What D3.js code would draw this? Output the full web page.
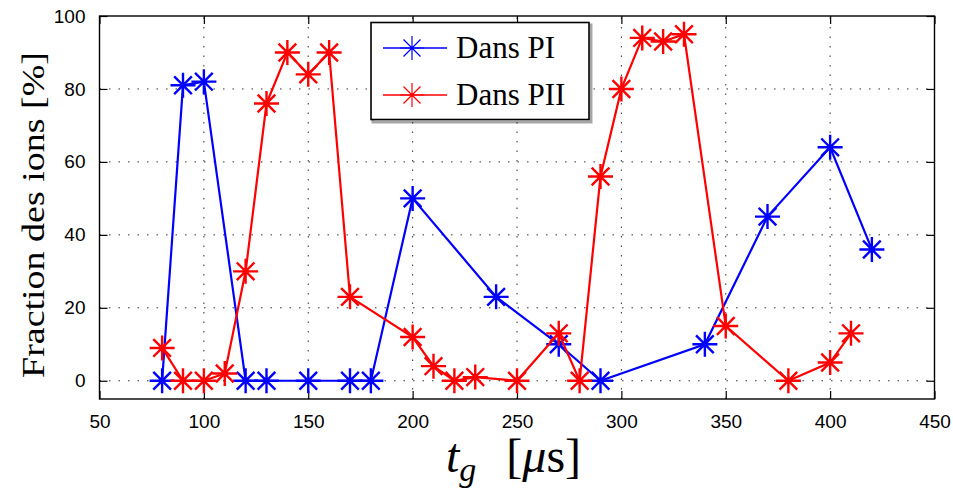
<!DOCTYPE html>
<html>
<head>
<meta charset="utf-8">
<script src="https://cdn.jsdelivr.net/npm/d3@7"></script>
<style>
  body { margin: 0; background: #fff; }
  svg { display: block; }
  .serif { font-family: "Liberation Serif", "DejaVu Serif", serif; }
  .sans { font-family: "Liberation Sans", Arimo, "DejaVu Sans", sans-serif; }
</style>
</head>
<body>
<svg id="chart" width="953" height="493"></svg>
<script>
// ---- data ----
const piX = [80, 90, 100, 120, 130, 150, 170, 180, 200, 240, 270, 290, 340, 370, 400, 420];
const piY = [0, 81, 82, 0, 0, 0, 0, 0, 50, 23, 10, 0, 10, 45, 64, 36];
const piiX = [80, 90, 100, 110, 120, 130, 140, 150, 160, 170, 200, 210, 220, 230, 250, 270, 280, 290, 300, 310, 320, 330, 350, 380, 400, 410];
const piiY = [9, 0, 0, 2, 30, 76, 90, 84, 90, 23, 12, 4, 0, 1, 0, 13, 0, 56, 80, 94, 93, 95, 15, 0, 5, 13];
const xTicks = [50, 100, 150, 200, 250, 300, 350, 400, 450];
const yTicks = [0, 20, 40, 60, 80, 100];
const seriesNames = ["Dans PI", "Dans PII"];
const seriesColors = ["#0000ff", "#ff0000"];

const svg = d3.select("#chart");
const L = 99.5, R = 934.5, T = 16, B = 399;
const x = d3.scaleLinear().domain([50, 450]).range([L, R]);
const y = d3.scaleLinear().domain([-5, 100]).range([B, T]);

// grid
const grid = svg.append("g").attr("stroke", "#333").attr("stroke-width", 1).attr("stroke-dasharray", "1.5,8");
xTicks.slice(1, -1).forEach(t => grid.append("line").attr("x1", x(t)).attr("x2", x(t)).attr("y1", B).attr("y2", T));
yTicks.forEach(t => { if (t < 100) grid.append("line").attr("x1", L).attr("x2", R).attr("y1", y(t)).attr("y2", y(t)); });

// axes with inward ticks
const xb = svg.append("g").attr("transform", `translate(0,${B})`)
  .call(d3.axisBottom(x).tickValues(xTicks).tickSizeInner(-8).tickSizeOuter(0).tickPadding(16));
const xt = svg.append("g").attr("transform", `translate(0,${T})`)
  .call(d3.axisTop(x).tickValues(xTicks).tickSizeInner(-8).tickSizeOuter(0).tickFormat(""));
const yl = svg.append("g").attr("transform", `translate(${L},0)`)
  .call(d3.axisLeft(y).tickValues(yTicks).tickSizeInner(-8).tickSizeOuter(0).tickPadding(14));
const yr = svg.append("g").attr("transform", `translate(${R},0)`)
  .call(d3.axisRight(y).tickValues(yTicks).tickSizeInner(-8).tickSizeOuter(0).tickFormat(""));
[xb, xt, yl, yr].forEach(g => {
  g.attr("font-family", null).attr("font-size", null);
  g.select(".domain").remove();
  g.selectAll("line").attr("stroke", "#000").attr("stroke-width", 1.2);
  g.selectAll("text").attr("class", "sans").style("font-size", "19px").attr("fill", "#000");
});
// frame
svg.append("rect").attr("x", L).attr("y", T).attr("width", R - L).attr("height", B - T)
  .attr("fill", "none").attr("stroke", "#000").attr("stroke-width", 1.4);

// star marker
function star(g, cx, cy, r, color, w) {
  const d = r * 0.7071;
  const p = `M${cx - r},${cy}L${cx + r},${cy}M${cx},${cy - r}L${cx},${cy + r}` +
            `M${cx - d},${cy - d}L${cx + d},${cy + d}M${cx - d},${cy + d}L${cx + d},${cy - d}`;
  g.append("path").attr("d", p).attr("stroke", color).attr("stroke-width", w).attr("fill", "none");
}

const line = d3.line().x(d => x(d[0])).y(d => y(d[1]));
const sets = [d3.zip(piX, piY), d3.zip(piiX, piiY)];
sets.forEach((pts, i) => {
  const g = svg.append("g");
  g.append("path").datum(pts).attr("d", line).attr("fill", "none")
    .attr("stroke", seriesColors[i]).attr("stroke-width", 2.2);
  pts.forEach(p => star(g, x(p[0]), y(p[1]), 12.5, seriesColors[i], 2.4));
});

// legend
const lg = svg.append("g");
lg.append("rect").attr("x", 372).attr("y", 24).attr("width", 218).attr("height", 97)
  .attr("fill", "none").attr("stroke", "#000").attr("stroke-width", 3).attr("opacity", 0.35)
  .attr("transform", "translate(1,1)");
lg.append("rect").attr("x", 371).attr("y", 22.5).attr("width", 218).attr("height", 97)
  .attr("fill", "#fff").attr("stroke", "#000").attr("stroke-width", 1.6);
seriesNames.forEach((n, i) => {
  const cy = 48 + i * 47;
  lg.append("line").attr("x1", 383).attr("x2", 447).attr("y1", cy).attr("y2", cy)
    .attr("stroke", seriesColors[i]).attr("stroke-width", 1.6);
  star(lg, 412, cy, 12, seriesColors[i], 1.2);
  lg.append("text").attr("class", "serif").attr("x", 456).attr("y", cy + 10)
    .style("font-size", "31px").attr("fill", "#000").text(n);
});

// y label
svg.append("text").attr("class", "serif").attr("transform", "translate(44,215) rotate(-90)")
  .attr("text-anchor", "middle").style("font-size", "32px").attr("fill", "#000")
  .attr("textLength", 326).attr("lengthAdjust", "spacingAndGlyphs")
  .text("Fraction des ions [%]");

// x label
const xl = svg.append("text").attr("class", "serif").attr("x", 446).attr("y", 472)
  .style("font-size", "48px").attr("fill", "#000");
xl.append("tspan").attr("font-style", "italic").text("t");
xl.append("tspan").attr("font-style", "italic").style("font-size", "34px").attr("dy", 9).text("g");
xl.append("tspan").attr("dy", -9).attr("dx", 30).text("[");
xl.append("tspan").attr("font-style", "italic").text("μ");
xl.append("tspan").text("s]");
</script>
</body>
</html>
